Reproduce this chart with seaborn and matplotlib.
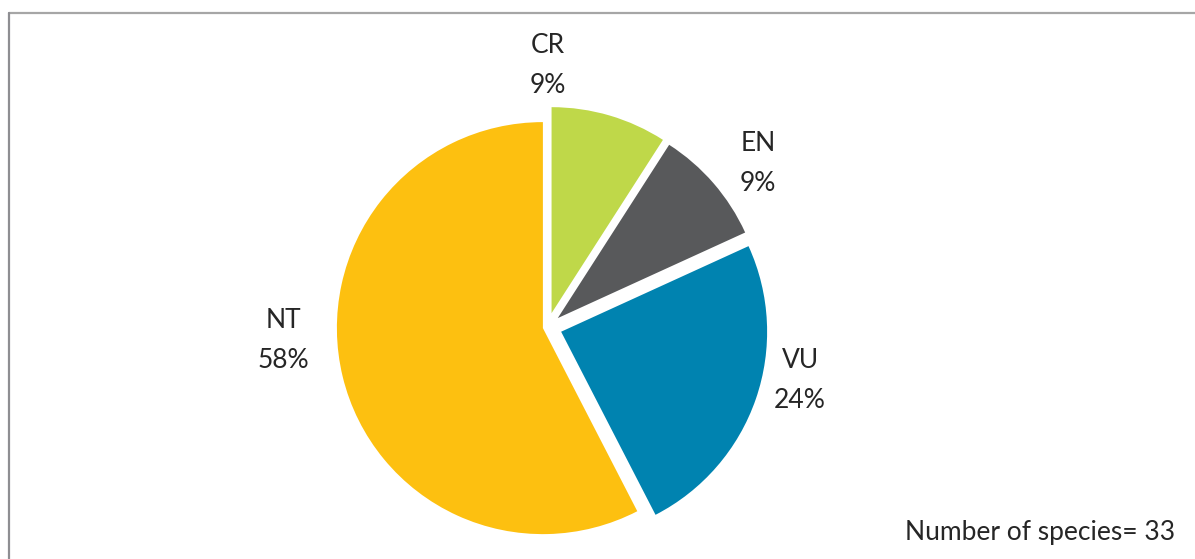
import matplotlib
matplotlib.use("Agg")
import matplotlib.pyplot as plt
from matplotlib.lines import Line2D
import seaborn as sns

# Red List categories and species counts (33 species in total)
categories = ["CR", "EN", "VU", "NT"]
counts = [3, 3, 8, 19]
colors = ["#BFD849", "#58595B", "#0083B0", "#FDC010"]
explode = [0.07, 0.066, 0.07, 0.023]
note = "Number of species= 33"

sns.set_theme(style="white")
plt.rcParams['font.family'] = ['Lato', 'DejaVu Sans']

W, H = 1195, 559
fig = plt.figure(figsize=(W / 100, H / 100), dpi=100)
ax = fig.add_axes([0, 0, 1, 1])

# pie centre and radius in pixels
cx, cy, r = 547.5, 327, 206

wedges, _ = ax.pie(counts, colors=sns.color_palette(colors), startangle=90,
                   counterclock=False, explode=explode,
                   wedgeprops=dict(edgecolor="none"))

ax.set_xlim(-cx / r, (W - cx) / r)
ax.set_ylim(-(H - cy) / r, cy / r)
ax.set_aspect("equal")
ax.axis("off")

# label anchors (pixel position of label centre), as placed in the original
label_pos = [(548, 66), (758, 164), (800, 381), (283, 340)]
total = sum(counts)
for cat, n, (px, py) in zip(categories, counts, label_pos):
    ax.text((px - cx) / r, (cy - py) / r, f"{cat}\n{n / total:.0%}",
            ha="center", va="center", fontsize=19, color="#262626",
            linespacing=1.75)

fig.text(1175 / W, 1 - 540 / H, note, ha="right", va="baseline",
         fontsize=19, color="#262626")

# chart frame (only top and left edges are visible)
fig.add_artist(Line2D([9 / W, 1], [1 - 13 / H, 1 - 13 / H], color="#A6A6A6", lw=1.6))
fig.add_artist(Line2D([9 / W, 9 / W], [0, 1 - 13 / H], color="#8E8E92", lw=1.6))

fig.savefig("out.png", dpi=100)
